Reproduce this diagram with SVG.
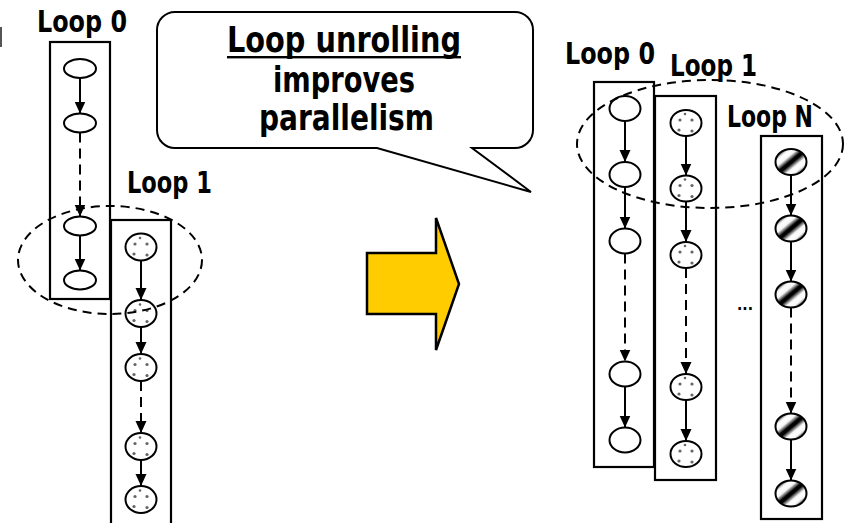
<svg xmlns="http://www.w3.org/2000/svg" xmlns:xlink="http://www.w3.org/1999/xlink" width="844" height="523" viewBox="0 0 844 523">
  <style>
    .lbl { font-family: "Liberation Sans Narrow", "DejaVu Sans Condensed", "Liberation Sans", sans-serif; font-weight: bold; fill: #000; }
    .box { fill: none; stroke: #000; stroke-width: 2.2; }
    .node { fill: #fff; stroke: #000; stroke-width: 2; }
    .hatch { fill: url(#stripes); stroke: #000; stroke-width: 2; }
    .edge { stroke: #000; stroke-width: 2; fill: none; marker-end: url(#arrow); }
    .dash { stroke-dasharray: 10 6; }
    .group { fill: none; stroke: #000; stroke-width: 2; stroke-dasharray: 9 6; }
  </style>
  <defs>
    <marker id="arrow" markerUnits="userSpaceOnUse" markerWidth="14" markerHeight="14" refX="12" refY="5.5" orient="auto">
      <path d="M0,0 L12,5.5 L0,11 Z" fill="#000"/>
    </marker>
    <linearGradient id="stripes" x1="-0.14" y1="-0.14" x2="0.28" y2="0.28" spreadMethod="repeat">
      <stop offset="0" stop-color="#fff"/>
      <stop offset="0.18" stop-color="#f4f4f4"/>
      <stop offset="0.45" stop-color="#000"/>
      <stop offset="0.6" stop-color="#000"/>
      <stop offset="0.87" stop-color="#f4f4f4"/>
      <stop offset="1" stop-color="#fff"/>
    </linearGradient>
    <g id="dots" fill="#666">
      <circle cx="-6" cy="-5" r="1.6"/>
      <circle cx="6" cy="-5" r="1.6"/>
      <circle cx="-7" cy="5" r="1.6"/>
      <circle cx="6" cy="6" r="1.6"/>
      <circle cx="-1" cy="-11" r="1.3"/>
    </g>
  </defs>

  <rect width="844" height="523" fill="#fff"/>
  <rect x="0" y="27" width="2" height="20" fill="#555"/>

  <!-- left: two loops before unrolling -->
  <g id="loop0-left">
    <rect class="box" x="50" y="42" width="60" height="257"/>
    <text class="lbl" x="37" y="32" font-size="30" textLength="90" lengthAdjust="spacingAndGlyphs">Loop 0</text>
  </g>
  <g id="loop1-left">
    <rect class="box" x="111" y="220" width="60" height="320"/>
    <text class="lbl" x="127" y="193" font-size="30" textLength="85" lengthAdjust="spacingAndGlyphs">Loop 1</text>
  </g>

  <g id="l0-n1"><ellipse class="node" cx="80" cy="68.5" rx="16" ry="9.5"/></g>
  <g id="l0-n2"><ellipse class="node" cx="80" cy="123" rx="16" ry="9.5"/></g>
  <g id="l0-n3"><ellipse class="node" cx="80" cy="226" rx="16" ry="9.5"/></g>
  <g id="l0-n4"><ellipse class="node" cx="80" cy="280" rx="16" ry="9.5"/></g>

  <g id="l1-n1"><ellipse class="node" cx="141" cy="247" rx="15.5" ry="13.5"/><use href="#dots" x="141" y="249"/></g>
  <g id="l1-n2"><ellipse class="node" cx="141" cy="313.5" rx="15.5" ry="13.5"/><use href="#dots" x="141" y="315.5"/></g>
  <g id="l1-n3"><ellipse class="node" cx="141" cy="367.5" rx="15.5" ry="13.5"/><use href="#dots" x="141" y="369.5"/></g>
  <g id="l1-n4"><ellipse class="node" cx="141" cy="446.5" rx="15.5" ry="13.5"/><use href="#dots" x="141" y="448.5"/></g>
  <g id="l1-n5"><ellipse class="node" cx="141" cy="499.5" rx="15.5" ry="13.5"/><use href="#dots" x="141" y="501.5"/></g>

  <!-- right: unrolled loops side by side -->
  <g id="loop0-right">
    <rect class="box" x="594" y="82" width="60" height="385"/>
    <text class="lbl" x="565" y="64" font-size="30" textLength="90" lengthAdjust="spacingAndGlyphs">Loop 0</text>
  </g>
  <g id="loop1-right">
    <rect class="box" x="655" y="96" width="61" height="384"/>
    <text class="lbl" x="670" y="76" font-size="30" textLength="87" lengthAdjust="spacingAndGlyphs">Loop 1</text>
  </g>
  <g id="loopN-right">
    <rect class="box" x="761" y="136" width="61" height="383"/>
    <text class="lbl" x="727" y="127" font-size="30" textLength="86" lengthAdjust="spacingAndGlyphs">Loop N</text>
  </g>
  <text class="lbl" x="737" y="310" font-size="16" textLength="16" lengthAdjust="spacingAndGlyphs">...</text>

  <g id="r0-n1"><ellipse class="node" cx="625" cy="108.5" rx="15.5" ry="12.5"/></g>
  <g id="r0-n2"><ellipse class="node" cx="625" cy="174.5" rx="15.5" ry="12.5"/></g>
  <g id="r0-n3"><ellipse class="node" cx="625" cy="241" rx="15.5" ry="12.5"/></g>
  <g id="r0-n4"><ellipse class="node" cx="625" cy="374" rx="15.5" ry="12.5"/></g>
  <g id="r0-n5"><ellipse class="node" cx="625" cy="440" rx="15.5" ry="12.5"/></g>

  <g id="r1-n1"><ellipse class="node" cx="686" cy="123" rx="15.5" ry="13"/><use href="#dots" x="686" y="125"/></g>
  <g id="r1-n2"><ellipse class="node" cx="686" cy="188.5" rx="15.5" ry="13"/><use href="#dots" x="686" y="190.5"/></g>
  <g id="r1-n3"><ellipse class="node" cx="686" cy="255" rx="15.5" ry="13"/><use href="#dots" x="686" y="257"/></g>
  <g id="r1-n4"><ellipse class="node" cx="686" cy="387" rx="15.5" ry="13"/><use href="#dots" x="686" y="389"/></g>
  <g id="r1-n5"><ellipse class="node" cx="686" cy="454" rx="15.5" ry="13"/><use href="#dots" x="686" y="456"/></g>

  <g id="rN-n1"><ellipse class="hatch" cx="791" cy="162" rx="15.5" ry="13"/></g>
  <g id="rN-n2"><ellipse class="hatch" cx="791" cy="228.5" rx="15.5" ry="13"/></g>
  <g id="rN-n3"><ellipse class="hatch" cx="791" cy="294.5" rx="15.5" ry="13"/></g>
  <g id="rN-n4"><ellipse class="hatch" cx="791" cy="426.5" rx="15.5" ry="13"/></g>
  <g id="rN-n5"><ellipse class="hatch" cx="791" cy="493.5" rx="15.5" ry="13"/></g>

  <g id="connectors">
    <line class="edge" x1="80" y1="78" x2="80" y2="113.5"/>
    <line class="edge dash" x1="80" y1="132.5" x2="80" y2="216.5"/>
    <line class="edge" x1="80" y1="235.5" x2="80" y2="270.5"/>

    <line class="edge" x1="141" y1="260.5" x2="141" y2="300"/>
    <line class="edge" x1="141" y1="327" x2="141" y2="354"/>
    <line class="edge dash" x1="141" y1="381" x2="141" y2="433"/>
    <line class="edge" x1="141" y1="460" x2="141" y2="486"/>

    <line class="edge" x1="625" y1="121" x2="625" y2="162"/>
    <line class="edge" x1="625" y1="187" x2="625" y2="228.5"/>
    <line class="edge dash" x1="625" y1="253.5" x2="625" y2="361.5"/>
    <line class="edge" x1="625" y1="386.5" x2="625" y2="427.5"/>

    <line class="edge" x1="686" y1="136" x2="686" y2="175.5"/>
    <line class="edge" x1="686" y1="201.5" x2="686" y2="242"/>
    <line class="edge dash" x1="686" y1="268" x2="686" y2="374"/>
    <line class="edge" x1="686" y1="400" x2="686" y2="441"/>

    <line class="edge" x1="791" y1="175" x2="791" y2="215.5"/>
    <line class="edge" x1="791" y1="241.5" x2="791" y2="281.5"/>
    <line class="edge dash" x1="791" y1="307.5" x2="791" y2="413.5"/>
    <line class="edge" x1="791" y1="439.5" x2="791" y2="480.5"/>
  </g>

  <!-- iterations that run together -->
  <ellipse class="group" cx="110" cy="260" rx="92" ry="54"/>
  <ellipse class="group" cx="710" cy="144" rx="133" ry="64"/>

  <!-- transformation arrow -->
  <polygon points="367,253 436,253 436,218 459,284 436,350 436,314 367,314" fill="#FFCC00" stroke="#000" stroke-width="2.5" stroke-linejoin="miter"/>

  <!-- speech bubble -->
  <g id="callout">
    <path d="M175,12 H515 A18,18 0 0 1 533,30 V130 A18,18 0 0 1 515,148 H472 L531,192 L377,148 H175 A18,18 0 0 1 157,130 V30 A18,18 0 0 1 175,12 Z" fill="#fff" stroke="#000" stroke-width="2"/>
    <text class="lbl" x="227" y="52" font-size="36" textLength="234" lengthAdjust="spacingAndGlyphs">Loop unrolling</text>
    <rect x="227" y="56" width="234" height="2.4" fill="#000"/>
    <text class="lbl" x="273" y="92" font-size="36" textLength="142" lengthAdjust="spacingAndGlyphs">improves</text>
    <text class="lbl" x="259" y="130" font-size="36" textLength="175" lengthAdjust="spacingAndGlyphs">parallelism</text>
  </g>
</svg>
